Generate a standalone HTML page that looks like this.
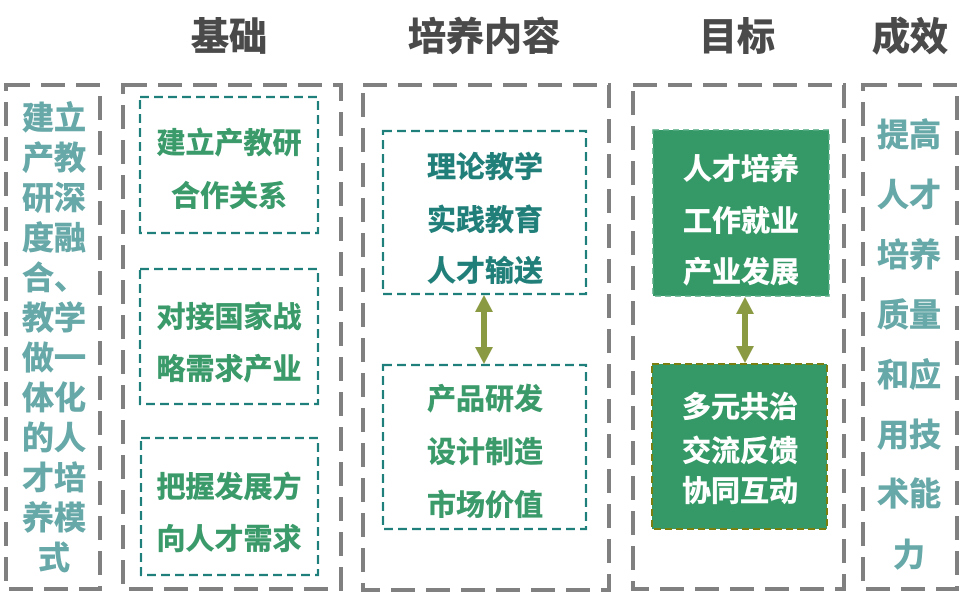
<!DOCTYPE html>
<html><head><meta charset="utf-8">
<style>
html,body{margin:0;padding:0;background:#fff;}
svg{display:block;}
text{font-family:"Liberation Sans","Noto Sans CJK SC",sans-serif;font-weight:bold;}
</style></head>
<body>
<svg width="970" height="598" viewBox="0 0 970 598" xmlns="http://www.w3.org/2000/svg">
<!-- headers -->
<g fill="#4a4a4a" stroke="#4a4a4a" stroke-width="0.8" font-size="38" text-anchor="middle" dominant-baseline="central">
<text x="229" y="38">基础</text>
<text x="484" y="38">培养内容</text>
<text x="737" y="38">目标</text>
<text x="910" y="38">成效</text>
</g>
<!-- outer gray dashed boxes -->
<g fill="none" stroke="#808080" stroke-width="4" stroke-dasharray="24 11">
<rect x="6" y="85" width="94" height="504"/>
<rect x="123" y="85" width="218" height="504"/>
<rect x="363" y="85" width="246" height="505"/>
<rect x="633" y="85" width="211" height="504"/>
<rect x="863" y="85" width="94" height="504"/>
</g>
<!-- inner teal dashed boxes -->
<g fill="none" stroke="#1f7f7a" stroke-width="2.2" stroke-dasharray="9 5">
<rect x="140" y="97" width="178" height="136"/>
<rect x="140" y="269" width="178" height="135"/>
<rect x="141" y="438" width="177" height="137"/>
<rect x="383" y="131" width="203" height="163"/>
<rect x="383" y="365" width="203" height="164"/>
</g>
<!-- green filled boxes -->
<rect x="653" y="130" width="176" height="166" fill="#349966" stroke="#5aae85" stroke-width="1.5" stroke-dasharray="6 4"/>
<rect x="652" y="364" width="175" height="165" fill="#349966" stroke="#7a7f10" stroke-width="2" stroke-dasharray="7 4"/>
<!-- arrows -->
<g fill="#8a9a42">
<rect x="481" y="310" width="6" height="40"/>
<polygon points="484,295 475,312 493,312"/>
<polygon points="484,364 475,347 493,347"/>
<rect x="742" y="312" width="6" height="36"/>
<polygon points="745,297 736,314 754,314"/>
<polygon points="745,363 736,346 754,346"/>
</g>
<!-- left column text -->
<g fill="#67a8a8" stroke="#67a8a8" stroke-width="0.6" font-size="32" text-anchor="middle" dominant-baseline="central">
<text x="54" y="118">建立</text>
<text x="54" y="158">产教</text>
<text x="54" y="198">研深</text>
<text x="54" y="238">度融</text>
<text x="54" y="278">合、</text>
<text x="54" y="318">教学</text>
<text x="54" y="358">做一</text>
<text x="54" y="398">体化</text>
<text x="54" y="438">的人</text>
<text x="54" y="478">才培</text>
<text x="54" y="518">养模</text>
<text x="54" y="558">式</text>
</g>
<!-- right column text -->
<g fill="#67a8a8" stroke="#67a8a8" stroke-width="0.6" font-size="32" text-anchor="middle" dominant-baseline="central">
<text x="909" y="135">提高</text>
<text x="909" y="195">人才</text>
<text x="909" y="255">培养</text>
<text x="909" y="315">质量</text>
<text x="909" y="375">和应</text>
<text x="909" y="435">用技</text>
<text x="909" y="494">术能</text>
<text x="909" y="555">力</text>
</g>
<!-- basis boxes text -->
<g fill="#3a9a6a" stroke="#3a9a6a" stroke-width="0.5" font-size="29" text-anchor="middle" dominant-baseline="central">
<text x="229" y="144">建立产教研</text>
<text x="229" y="197">合作关系</text>
<text x="229" y="318">对接国家战</text>
<text x="229" y="370">略需求产业</text>
<text x="229" y="488">把握发展方</text>
<text x="229" y="540">向人才需求</text>
</g>
<!-- content boxes text -->
<g fill="#217f7a" stroke="#217f7a" stroke-width="0.5" font-size="29" text-anchor="middle" dominant-baseline="central">
<text x="485" y="168">理论教学</text>
<text x="485" y="221">实践教育</text>
<text x="485" y="272">人才输送</text>
</g>
<g fill="#3a9a6a" stroke="#3a9a6a" stroke-width="0.5" font-size="29" text-anchor="middle" dominant-baseline="central">
<text x="485" y="400">产品研发</text>
<text x="485" y="453">设计制造</text>
<text x="485" y="506">市场价值</text>
</g>
<!-- goal boxes text -->
<g fill="#ffffff" stroke="#ffffff" stroke-width="0.5" font-size="29" text-anchor="middle" dominant-baseline="central">
<text x="741" y="170">人才培养</text>
<text x="741" y="222">工作就业</text>
<text x="741" y="273">产业发展</text>
<text x="740" y="408">多元共治</text>
<text x="740" y="452">交流反馈</text>
<text x="740" y="492">协同互动</text>
</g>
</svg>
</body></html>
